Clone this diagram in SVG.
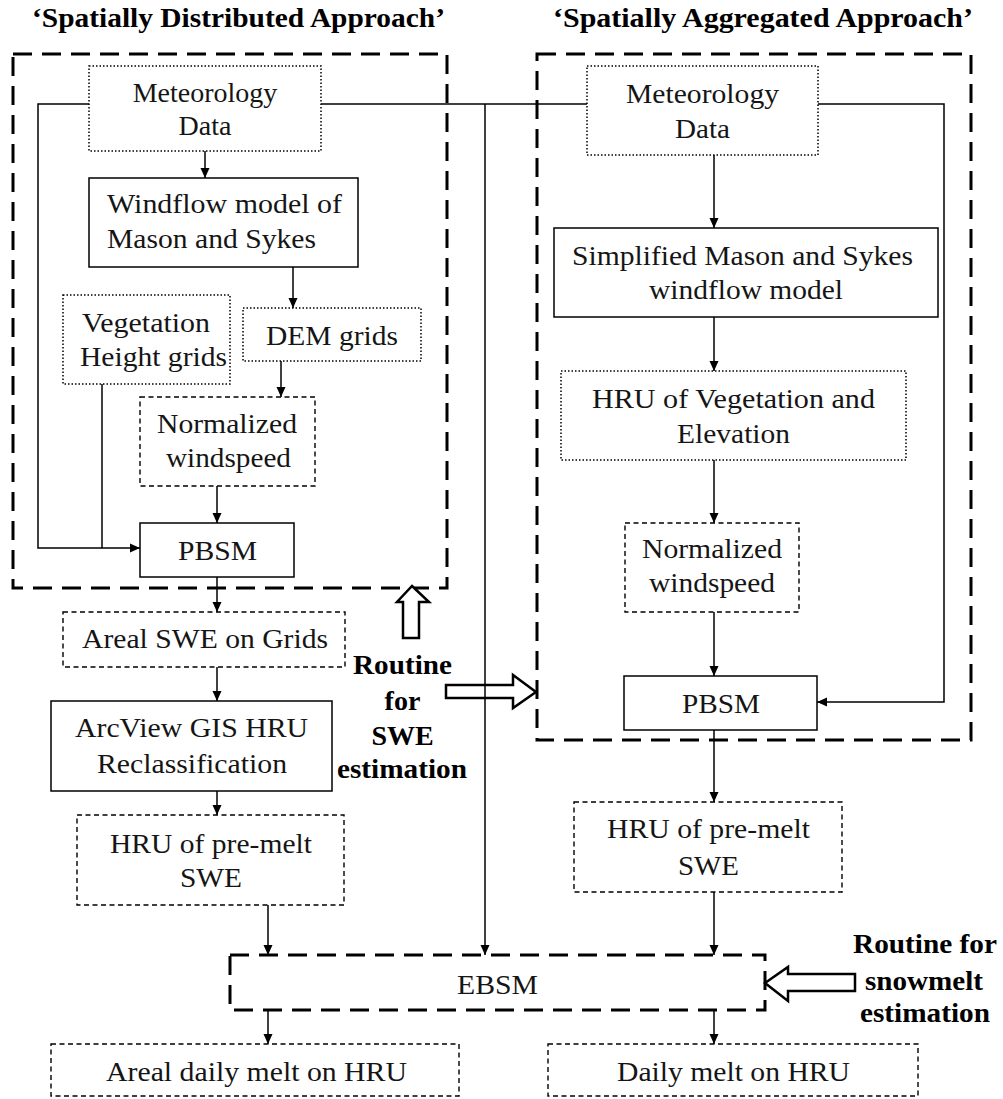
<svg xmlns="http://www.w3.org/2000/svg" width="1003" height="1099" viewBox="0 0 1003 1099">
<defs>
<style>
text{font-family:"Liberation Serif","Times New Roman",serif;font-size:28px;fill:#151515;text-anchor:middle}
.b{font-weight:bold;fill:#000}
.st{text-anchor:start}
.solid{fill:#fff;stroke:#000;stroke-width:1.5}
.dot{fill:#fff;stroke:#000;stroke-width:1.5;stroke-dasharray:1.5 2}
.dash{fill:#fff;stroke:#000;stroke-width:1.4;stroke-dasharray:5 3.5}
.big{fill:none;stroke:#000;stroke-width:3;stroke-dasharray:19 10}
.hollow{fill:#fff;stroke:#000;stroke-width:2.5;stroke-linejoin:miter}
.c{fill:none;stroke:#000;stroke-width:1.5}
.a{marker-end:url(#ah)}
</style>
<marker id="ah" markerUnits="userSpaceOnUse" markerWidth="10" markerHeight="10" refX="10" refY="5" orient="auto">
<path d="M0,0.5 L10,5 L0,9.5 z" fill="#000"/>
</marker>
</defs>
<rect width="1003" height="1099" fill="#fff"/>

<g id="titles">
<text class="b" x="238.5" y="27" textLength="413" lengthAdjust="spacingAndGlyphs">‘Spatially Distributed Approach’</text>
<text class="b" x="763" y="27" textLength="420" lengthAdjust="spacingAndGlyphs">‘Spatially Aggregated Approach’</text>
</g>

<g id="containers">
<rect id="distributed-box" class="big" x="13" y="54" width="434" height="534"/>
<rect id="aggregated-box" class="big" x="537" y="54" width="434" height="686"/>
</g>

<g id="routine-arrows">
<polygon class="hollow" points="412,586 429,602 419,602 419,638 403,638 403,602 397,602"/>
<polygon class="hollow" points="446,685 513,685 513,675 536,692 513,708 513,698 446,698"/>
<polygon class="hollow" points="765,983 788,967 788,974 855,974 855,991 788,991 788,1001"/>
</g>

<g id="routine-labels">
<text class="b" x="402.5" y="674" textLength="99" lengthAdjust="spacingAndGlyphs">Routine</text>
<text class="b" x="402.5" y="710">for</text>
<text class="b" x="402.5" y="745">SWE</text>
<text class="b" x="402" y="778" textLength="130" lengthAdjust="spacingAndGlyphs">estimation</text>
<text class="b" x="925" y="953" textLength="144" lengthAdjust="spacingAndGlyphs">Routine for</text>
<text class="b" x="924" y="990" textLength="118" lengthAdjust="spacingAndGlyphs">snowmelt</text>
<text class="b" x="925" y="1022" textLength="130" lengthAdjust="spacingAndGlyphs">estimation</text>
</g>

<g id="connectors">
<path class="c a" d="M205,151 V178"/>
<path class="c a" d="M293,267 V308"/>
<path class="c a" d="M281,361 V397"/>
<path class="c a" d="M217,486 V523"/>
<path class="c a" d="M89,104 H38 V548 H140"/>
<path class="c" d="M102,384 V548"/>
<path class="c" d="M321,104 H587"/>
<path class="c a" d="M485,104 V955"/>
<path class="c a" d="M818,104 H944 V702 H817"/>
<path class="c a" d="M714,155 V228"/>
<path class="c a" d="M714,317 V371"/>
<path class="c a" d="M714,460 V523"/>
<path class="c a" d="M714,612 V676"/>
<path class="c a" d="M714,730 V802"/>
<path class="c a" d="M714,892 V955"/>
<path class="c a" d="M217,577 V612"/>
<path class="c a" d="M217,667 V701"/>
<path class="c a" d="M217,791 V815"/>
<path class="c a" d="M268,905 V955"/>
<path class="c a" d="M268,1010 V1044"/>
<path class="c a" d="M714,1010 V1044"/>
</g>

<g id="met-left">
<rect class="dot" x="89" y="66" width="232" height="85"/>
<text x="205" y="102">Meteorology</text>
<text x="205" y="135">Data</text>
</g>
<g id="windflow-left">
<rect class="solid" x="89" y="178" width="269" height="89"/>
<text class="st" x="107" y="213" textLength="235" lengthAdjust="spacingAndGlyphs">Windflow model of</text>
<text class="st" x="107" y="248" textLength="209" lengthAdjust="spacingAndGlyphs">Mason and Sykes</text>
</g>
<g id="vegetation-left">
<rect class="dot" x="63" y="295" width="167" height="89"/>
<text x="146" y="332" textLength="128" lengthAdjust="spacingAndGlyphs">Vegetation</text>
<text x="153.5" y="366" textLength="147" lengthAdjust="spacingAndGlyphs">Height grids</text>
</g>
<g id="dem-left">
<rect class="dot" x="243" y="308" width="178" height="53"/>
<text x="332" y="345" textLength="132" lengthAdjust="spacingAndGlyphs">DEM grids</text>
</g>
<g id="normalized-left">
<rect class="dash" x="140" y="397" width="175" height="89"/>
<text x="227" y="433" textLength="140" lengthAdjust="spacingAndGlyphs">Normalized</text>
<text x="228.5" y="467" textLength="125" lengthAdjust="spacingAndGlyphs">windspeed</text>
</g>
<g id="pbsm-left">
<rect class="solid" x="140" y="523" width="154" height="54"/>
<text x="217.5" y="560" textLength="79" lengthAdjust="spacingAndGlyphs">PBSM</text>
</g>
<g id="areal-swe">
<rect class="dash" x="63" y="612" width="282" height="55"/>
<text x="205" y="648" textLength="246" lengthAdjust="spacingAndGlyphs">Areal SWE on Grids</text>
</g>
<g id="arcview">
<rect class="solid" x="51" y="701" width="281" height="90"/>
<text x="191.5" y="737" textLength="233" lengthAdjust="spacingAndGlyphs">ArcView GIS HRU</text>
<text x="192" y="773" textLength="190" lengthAdjust="spacingAndGlyphs">Reclassification</text>
</g>
<g id="hru-premelt-left">
<rect class="dash" x="77" y="815" width="267" height="90"/>
<text x="211" y="853" textLength="202" lengthAdjust="spacingAndGlyphs">HRU of pre-melt</text>
<text x="211" y="887" textLength="62" lengthAdjust="spacingAndGlyphs">SWE</text>
</g>

<g id="met-right">
<rect class="dot" x="587" y="66" width="231" height="89"/>
<text x="702.5" y="103" textLength="153" lengthAdjust="spacingAndGlyphs">Meteorology</text>
<text x="702.5" y="138" textLength="55" lengthAdjust="spacingAndGlyphs">Data</text>
</g>
<g id="simplified-right">
<rect class="solid" x="554" y="228" width="384" height="89"/>
<text x="742.5" y="265" textLength="341" lengthAdjust="spacingAndGlyphs">Simplified Mason and Sykes</text>
<text x="746" y="299" textLength="194" lengthAdjust="spacingAndGlyphs">windflow model</text>
</g>
<g id="hru-veg-right">
<rect class="dot" x="561" y="371" width="345" height="89"/>
<text x="733.5" y="408" textLength="283" lengthAdjust="spacingAndGlyphs">HRU of Vegetation and</text>
<text x="733.5" y="443" textLength="113" lengthAdjust="spacingAndGlyphs">Elevation</text>
</g>
<g id="normalized-right">
<rect class="dash" x="625" y="523" width="174" height="89"/>
<text x="712" y="558" textLength="140" lengthAdjust="spacingAndGlyphs">Normalized</text>
<text x="712" y="592" textLength="126" lengthAdjust="spacingAndGlyphs">windspeed</text>
</g>
<g id="pbsm-right">
<rect class="solid" x="624" y="676" width="193" height="54"/>
<text x="721" y="713" textLength="78" lengthAdjust="spacingAndGlyphs">PBSM</text>
</g>
<g id="hru-premelt-right">
<rect class="dash" x="574" y="802" width="268" height="90"/>
<text x="708.5" y="838" textLength="203" lengthAdjust="spacingAndGlyphs">HRU of pre-melt</text>
<text x="708.5" y="875" textLength="61" lengthAdjust="spacingAndGlyphs">SWE</text>
</g>

<g id="ebsm">
<rect class="big" x="230" y="955" width="535" height="55"/>
<text x="497.5" y="994" textLength="81" lengthAdjust="spacingAndGlyphs">EBSM</text>
</g>
<g id="areal-daily-melt">
<rect class="dash" x="51" y="1044" width="408" height="52"/>
<text x="256.5" y="1081" textLength="301" lengthAdjust="spacingAndGlyphs">Areal daily melt on HRU</text>
</g>
<g id="daily-melt">
<rect class="dash" x="548" y="1044" width="370" height="52"/>
<text x="733.5" y="1081" textLength="233" lengthAdjust="spacingAndGlyphs">Daily melt on HRU</text>
</g>
</svg>
